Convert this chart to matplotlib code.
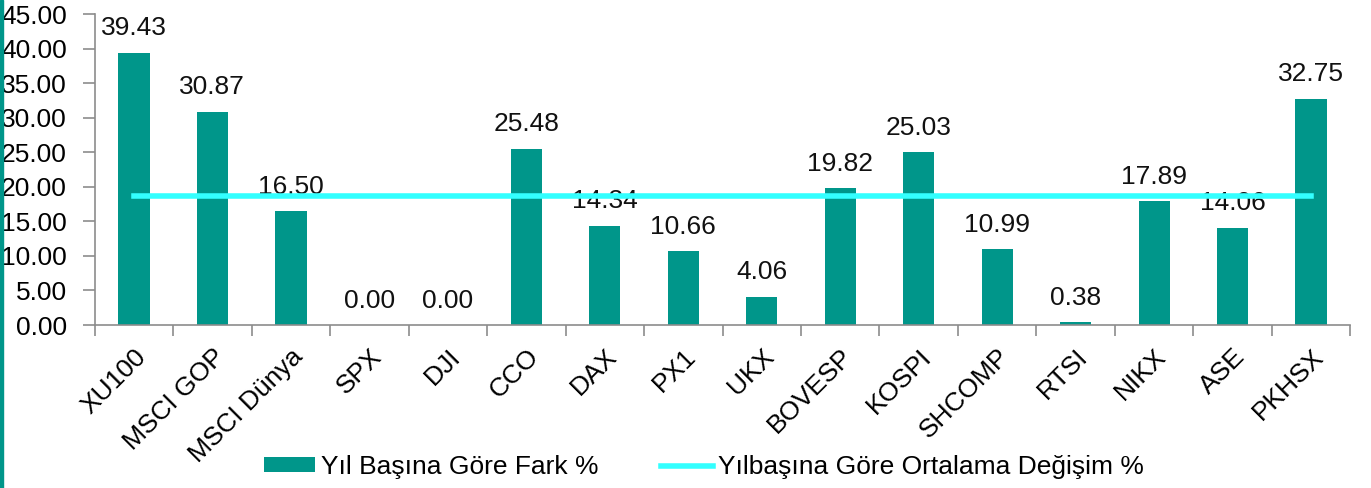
import matplotlib

matplotlib.use("Agg")
import matplotlib.pyplot as plt
import numpy as np
from matplotlib.patches import Rectangle

plt.rcParams["font.family"] = ["Liberation Sans", "DejaVu Sans"]

markets = ["XU100", "MSCI GOP", "MSCI Dünya", "SPX", "DJI", "CCO", "DAX", "PX1",
           "UKX", "BOVESP", "KOSPI", "SHCOMP", "RTSI", "NIKX", "ASE", "PKHSX"]
ytd_change = [39.43, 30.87, 16.50, 0.00, 0.00, 25.48, 14.34, 10.66,
              4.06, 19.82, 25.03, 10.99, 0.38, 17.89, 14.06, 32.75]
avg_change = [18.73, 18.73, 18.73, 18.73, 18.73, 18.73, 18.73, 18.73,
              18.73, 18.73, 18.73, 18.73, 18.73, 18.73, 18.73, 18.73]

BAR = "#00968A"
LINE = "#33FFFF"
GREY = "#8C8C8C"
FS = 19

fig = plt.figure(figsize=(13.71, 4.88), dpi=100)
ax = fig.add_axes([0.069, 0.334, 0.916, 0.637])

x = np.arange(len(markets))
bars = ax.bar(x, ytd_change, width=0.4, color=BAR, label="Yıl Başına Göre Fark %", zorder=2)
line, = ax.plot(x, avg_change, color=LINE, linewidth=4, zorder=4,
                label="Yılbaşına Göre Ortalama Değişim %")

for xi, v in zip(x, ytd_change):
    ax.annotate(f"{v:.2f}", (xi, v), xytext=(0, 9), textcoords="offset points",
                ha="center", va="bottom", fontsize=FS, color="#111111", zorder=3)

ax.set_xlim(-0.5, len(markets) - 0.5)
ax.set_ylim(0, 45)
ax.set_yticks(np.arange(0, 45.1, 5))
ax.set_yticklabels([f"{t:.2f}" for t in np.arange(0, 45.1, 5)], fontsize=FS)

ax.set_xticks(x, markets, rotation=45, ha="right", rotation_mode="anchor", fontsize=FS)
ax.tick_params(axis="x", length=0, pad=14)
ax.set_xticks(np.arange(-0.5, len(markets)), minor=True)
ax.tick_params(axis="x", which="minor", length=8, color=GREY, width=1.2)
ax.tick_params(axis="y", length=9, color=GREY, width=1.2, pad=11)

for side in ["top", "right"]:
    ax.spines[side].set_visible(False)
for side in ["left", "bottom"]:
    ax.spines[side].set_color(GREY)
    ax.spines[side].set_linewidth(1.2)

fig.legend(handles=[bars, line], loc="center", bbox_to_anchor=(704 / 1371, 1 - 467 / 488),
           ncol=2, frameon=False, fontsize=FS, handlelength=1.95, handleheight=0.5,
           columnspacing=2.4, handletextpad=0.2, borderpad=0.1)

# teal stripe on the left edge of the slide
fig.patches.append(Rectangle((0, 0), 3 / 1371, 1, transform=fig.transFigure, color=BAR))

fig.savefig("out.png", dpi=100)
